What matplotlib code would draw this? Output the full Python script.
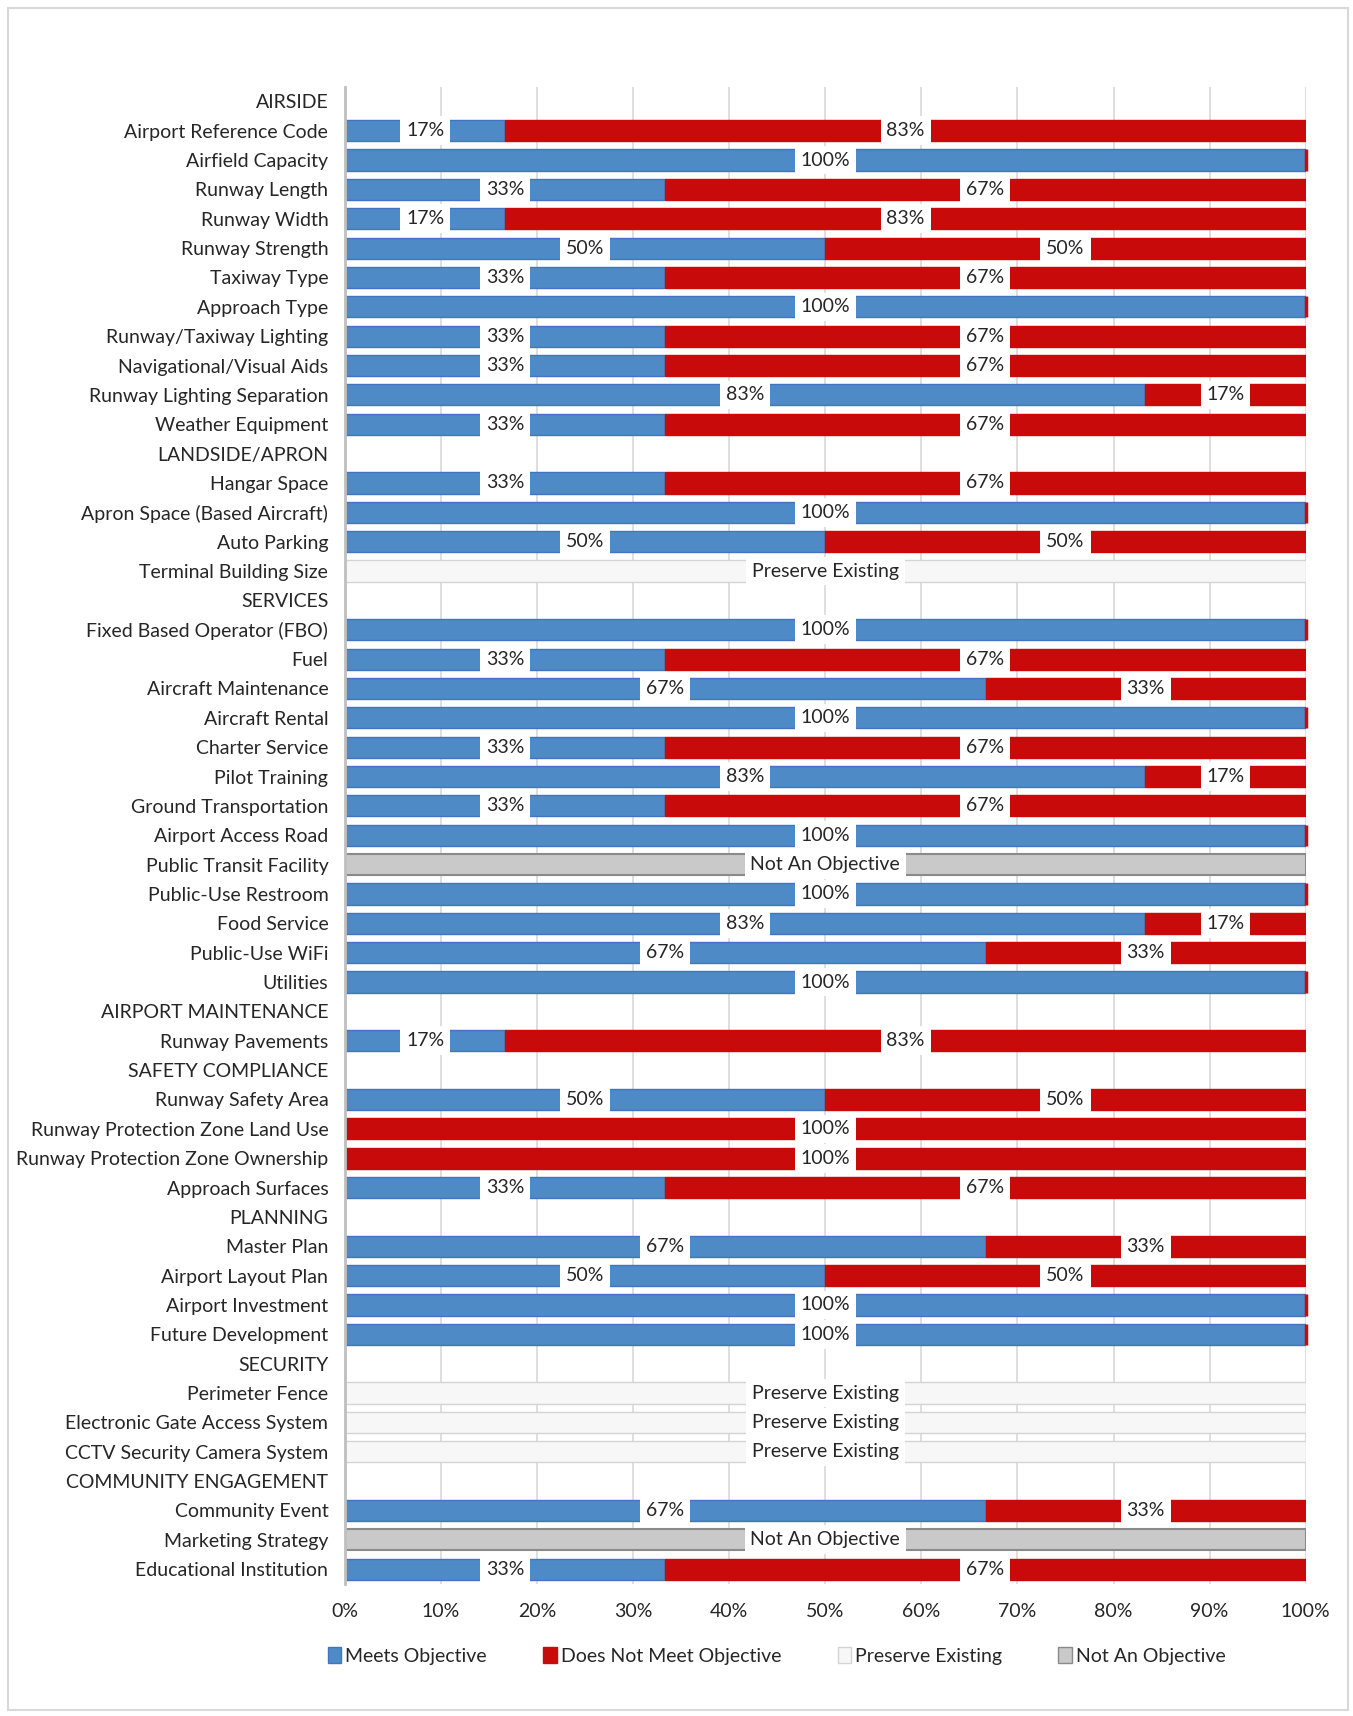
import matplotlib.pyplot as plt
from matplotlib.patches import Rectangle, Patch
import numpy as np

plt.rcParams['font.family'] = ['Lato', 'DejaVu Sans']

categories = [
    "AIRSIDE", "Airport Reference Code", "Airfield Capacity", "Runway Length",
    "Runway Width", "Runway Strength", "Taxiway Type", "Approach Type",
    "Runway/Taxiway Lighting", "Navigational/Visual Aids",
    "Runway Lighting Separation", "Weather Equipment",
    "LANDSIDE/APRON", "Hangar Space", "Apron Space (Based Aircraft)",
    "Auto Parking", "Terminal Building Size",
    "SERVICES", "Fixed Based Operator (FBO)", "Fuel", "Aircraft Maintenance",
    "Aircraft Rental", "Charter Service", "Pilot Training",
    "Ground Transportation", "Airport Access Road", "Public Transit Facility",
    "Public-Use Restroom", "Food Service", "Public-Use WiFi", "Utilities",
    "AIRPORT MAINTENANCE", "Runway Pavements",
    "SAFETY COMPLIANCE", "Runway Safety Area", "Runway Protection Zone Land Use",
    "Runway Protection Zone Ownership", "Approach Surfaces",
    "PLANNING", "Master Plan", "Airport Layout Plan", "Airport Investment",
    "Future Development",
    "SECURITY", "Perimeter Fence", "Electronic Gate Access System",
    "CCTV Security Camera System",
    "COMMUNITY ENGAGEMENT", "Community Event", "Marketing Strategy",
    "Educational Institution",
]

# row type: H = section header, S = scored, P = preserve existing, N = not an objective
row_type = list("HSSSSSSSSSSS" "HSSSP" "HSSSSSSSSNSSSS" "HS" "HSSSS" "HSSSS" "HPPP" "HSNS")

# percent meeting objective (scored rows only)
meets = [0, 16.7, 100, 33.3, 16.7, 50, 33.3, 100, 33.3, 33.3, 83.3, 33.3,
         0, 33.3, 100, 50, 0,
         0, 100, 33.3, 66.7, 100, 33.3, 83.3, 33.3, 100, 0, 100, 83.3, 66.7, 100,
         0, 16.7,
         0, 50, 0, 0, 33.3,
         0, 66.7, 50, 100, 100,
         0, 0, 0, 0,
         0, 66.7, 0, 33.3]
not_meets = [0, 83.3, 0, 66.7, 83.3, 50, 66.7, 0, 66.7, 66.7, 16.7, 66.7,
             0, 66.7, 0, 50, 0,
             0, 0, 66.7, 33.3, 0, 66.7, 16.7, 66.7, 0, 0, 0, 16.7, 33.3, 0,
             0, 83.3,
             0, 50, 100, 100, 66.7,
             0, 33.3, 50, 0, 0,
             0, 0, 0, 0,
             0, 33.3, 0, 66.7]
preserve = [100 if t == "P" else 0 for t in row_type]
not_obj = [100 if t == "N" else 0 for t in row_type]

blue, blue_edge = "#4E8AC5", "#4472C4"
red = "#C80A0A"
pres_fc, pres_ec = "#F7F7F7", "#D4D4D4"
nobj_fc, nobj_ec = "#C9C9C9", "#8A8A8A"

fig = plt.figure(figsize=(13.53, 17.16), dpi=100)
fig.patches.append(Rectangle((8 / 1353, 6 / 1716), 1340 / 1353, 1702 / 1716,
                             transform=fig.transFigure, fill=False,
                             edgecolor="#D9D9D9", linewidth=1.5))
ax = fig.add_axes([0.255, 0.077, 0.71, 0.8725])

y = np.arange(len(categories))
h = 0.72
label_font = 14
box = dict(boxstyle="square,pad=0.3", fc="white", ec="none")

for i, t in enumerate(row_type):
    if t == "S":
        m, n = meets[i], not_meets[i]
        ax.barh(y[i], m, left=0, height=h, color=blue, edgecolor=blue_edge, linewidth=1, zorder=2)
        if n > 0:
            ax.barh(y[i], n, left=m, height=h, color=red, edgecolor=red, linewidth=1, zorder=2)
        else:
            # zero-size red segment shows as a sliver at the bar end
            ax.barh(y[i], n, left=m, height=h, color=red, edgecolor=red, linewidth=2.5,
                    zorder=3, clip_on=False)
        if m > 0:
            ax.text(m / 2, y[i], f"{round(m)}%", ha="center", va="center",
                    fontsize=label_font, color="#262626", bbox=box, zorder=4)
        if n > 0:
            ax.text(m + n / 2, y[i], f"{round(n)}%", ha="center", va="center",
                    fontsize=label_font, color="#262626", bbox=box, zorder=4)
    elif t == "P":
        ax.barh(y[i], preserve[i], height=h, color=pres_fc, edgecolor=pres_ec, linewidth=1, zorder=2)
        ax.text(preserve[i] / 2, y[i], "Preserve Existing", ha="center", va="center",
                fontsize=label_font, color="#262626", bbox=box, zorder=4)
    elif t == "N":
        ax.barh(y[i], not_obj[i], height=h, color=nobj_fc, edgecolor=nobj_ec, linewidth=1.5, zorder=2)
        ax.text(not_obj[i] / 2, y[i], "Not An Objective", ha="center", va="center",
                fontsize=label_font, color="#262626", bbox=box, zorder=4)

ax.set_xlim(0, 100)
ax.set_ylim(len(categories) - 0.5, -0.5)
ax.set_yticks(y)
ax.set_yticklabels(categories, fontsize=14, color="#262626")
ax.set_xticks(np.arange(0, 101, 10))
ax.set_xticklabels([f"{v}%" for v in range(0, 101, 10)], fontsize=14, color="#262626")
ax.tick_params(axis="y", length=0, pad=12)
ax.tick_params(axis="x", length=0, pad=14)
ax.grid(axis="x", color="#D9D9D9", linewidth=1.2, zorder=0)
ax.set_axisbelow(True)
for s in ["top", "right", "bottom"]:
    ax.spines[s].set_visible(False)
ax.spines["left"].set_color("#BFBFBF")
ax.spines["left"].set_linewidth(2)

handles = [
    Patch(facecolor=blue, edgecolor=blue_edge, label="Meets Objective"),
    Patch(facecolor=red, edgecolor=red, label="Does Not Meet Objective"),
    Patch(facecolor=pres_fc, edgecolor=pres_ec, label="Preserve Existing"),
    Patch(facecolor=nobj_fc, edgecolor=nobj_ec, label="Not An Objective"),
]
fig.legend(handles=handles, loc="center", bbox_to_anchor=(0.574, 0.035), ncol=4,
           frameon=False, fontsize=14, handlelength=0.7, handleheight=0.9,
           handletextpad=0.2, columnspacing=2.9, labelcolor="#262626")

fig.savefig("out.png", dpi=100)
